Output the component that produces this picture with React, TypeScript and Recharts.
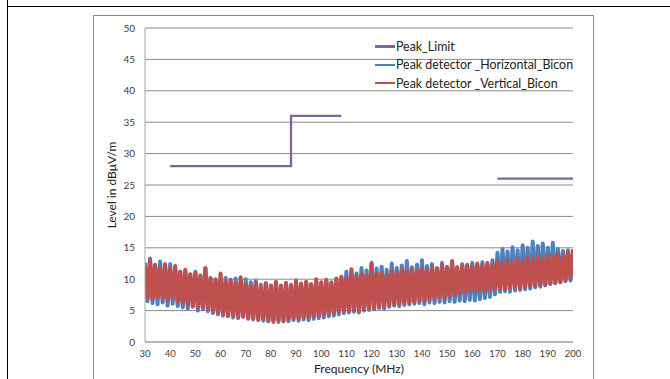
import React from 'react';
import { LineChart, Line, XAxis, YAxis, CartesianGrid, Label } from 'recharts';

// sweep samples, 1 MHz apart starting at 30 MHz
const levelHorizontal = [
  12.6, 6.5, 13.3, 6.2, 12.2, 6.0, 12.8, 6.3, 11.9, 5.8,
  12.4, 6.1, 11.6, 5.7, 11.1, 5.5, 11.4, 5.3, 10.7, 5.6,
  11.2, 5.0, 10.5, 5.2, 11.8, 4.9, 10.1, 4.6, 10.0, 4.4,
  9.7, 4.2, 10.2, 4.1, 9.8, 3.9, 10.1, 3.8, 9.6, 4.0,
  10.0, 3.7, 9.5, 3.6, 9.7, 3.5, 9.1, 3.4, 9.4, 3.3,
  8.9, 3.5, 9.2, 3.2, 9.0, 3.4, 9.3, 3.3, 9.0, 3.5,
  9.4, 3.4, 9.1, 3.6, 9.5, 3.5, 9.2, 3.7, 9.6, 3.8,
  9.3, 3.9, 9.7, 4.1, 9.5, 4.2, 10.0, 4.4, 10.3, 4.6,
  11.2, 4.7, 10.6, 4.8, 10.9, 4.7, 11.8, 5.0, 11.4, 5.1,
  12.6, 5.2, 11.7, 5.4, 12.0, 5.3, 11.5, 5.6, 12.5, 5.8,
  11.8, 5.7, 12.2, 5.9, 12.9, 6.0, 11.9, 6.1, 12.3, 6.2,
  13.0, 6.0, 12.1, 6.3, 12.4, 6.2, 11.8, 6.4, 12.6, 6.3,
  12.0, 6.5, 12.3, 6.4, 11.9, 6.6, 12.4, 6.5, 12.1, 6.7,
  12.6, 6.6, 12.2, 6.8, 12.7, 7.0, 12.3, 7.2, 13.0, 7.6,
  14.2, 8.0, 14.8, 8.1, 14.4, 8.0, 15.1, 8.2, 14.6, 8.3,
  15.4, 8.4, 15.0, 8.5, 16.0, 8.7, 15.3, 8.8, 15.7, 9.0,
  15.0, 9.2, 15.8, 9.4, 14.8, 9.5, 14.5, 9.7, 14.6, 9.8,
  14.2,
];

const levelVertical = [
  12.0, 7.0, 13.0, 6.8, 12.3, 7.2, 11.8, 6.9, 12.4, 6.7,
  11.6, 7.0, 12.1, 6.4, 11.2, 6.2, 11.5, 5.9, 10.8, 5.8,
  11.0, 5.5, 10.6, 5.6, 11.7, 5.2, 10.2, 5.0, 9.8, 4.6,
  10.9, 4.5, 9.6, 4.3, 9.9, 4.2, 9.4, 4.0, 10.3, 4.1,
  9.2, 3.8, 9.0, 3.9, 9.5, 3.6, 8.8, 3.7, 9.3, 3.4,
  9.0, 3.2, 9.6, 3.5, 8.9, 3.3, 9.4, 3.6, 9.1, 3.8,
  9.8, 3.7, 9.3, 4.0, 9.6, 3.9, 9.2, 4.1, 10.0, 4.2,
  9.5, 4.3, 9.9, 4.5, 9.4, 4.6, 10.1, 4.8, 10.4, 4.9,
  10.2, 5.0, 11.6, 5.1, 10.5, 4.9, 10.8, 5.2, 10.6, 5.3,
  12.4, 5.4, 10.9, 5.6, 11.0, 5.7, 10.7, 5.9, 11.3, 6.0,
  11.1, 6.2, 11.5, 6.1, 11.2, 6.3, 11.6, 6.4, 11.3, 6.5,
  11.7, 6.6, 11.4, 6.8, 12.0, 6.9, 11.6, 7.1, 12.2, 7.0,
  11.8, 7.3, 12.9, 7.5, 11.9, 7.7, 12.1, 7.9, 12.3, 8.1,
  12.0, 8.2, 12.5, 8.3, 12.2, 8.0, 12.6, 8.4, 12.4, 8.3,
  12.8, 8.5, 12.6, 8.4, 13.0, 8.6, 12.7, 8.7, 13.2, 8.5,
  12.9, 8.8, 13.4, 8.9, 13.1, 9.0, 13.6, 9.1, 13.3, 9.2,
  13.8, 9.3, 13.5, 9.4, 14.0, 9.6, 13.7, 9.8, 14.3, 10.2,
  14.8,
];

const limitFreqs = [40, 88, 88, 108, 139, 170, 200];
const limitLevels = [28, 28, 36, 36, null, 26, 26];

const xTicks = [30, 40, 50, 60, 70, 80, 90, 100, 110, 120, 130, 140, 150, 160, 170, 180, 190, 200];
const yTicks = [0, 5, 10, 15, 20, 25, 30, 35, 40, 45, 50];

const horizontalData = levelHorizontal.map((v, i) => ({ f: 30 + i, v }));
const verticalData = levelVertical.map((v, i) => ({ f: 30 + i, v }));
const limitData = limitFreqs.map((f, i) => ({ f, v: limitLevels[i] }));

const legendItems = [
  { name: 'Peak_Limit', color: '#8064A2' },
  { name: 'Peak detector _Horizontal_Bicon', color: '#4F81BD' },
  { name: 'Peak detector _Vertical_Bicon', color: '#C0504D' },
];

const font = 'Lato, "Open Sans", sans-serif';

const LegendBox = () => (
  <div style={{ position: 'absolute', left: 375, top: 37.5, fontFamily: font, fontSize: 12.4, color: '#222', whiteSpace: 'nowrap' }}>
    {legendItems.map((it) => (
      <div key={it.name} style={{ display: 'flex', alignItems: 'center', height: 18.3 }}>
        <span style={{ display: 'inline-block', width: 20, height: 2.5, background: it.color, marginRight: 1 }} />
        <span>{it.name}</span>
      </div>
    ))}
  </div>
);

export default function App() {
  return (
    <div style={{ position: 'fixed', left: 0, top: 0, width: 670, height: 379, overflow: 'hidden', background: '#fff' }}>
      <div style={{ position: 'absolute', left: 7, top: 0, width: 1.3, height: 379, background: '#000' }} />
      <div style={{ position: 'absolute', left: 7, top: 5.5, width: 663, height: 1.3, background: '#000' }} />
      <div style={{ position: 'absolute', left: 93, top: 14.5, width: 499, height: 400, border: '1px solid #8a8a8a' }} />
      <div style={{ position: 'absolute', left: 0, top: 0 }}>
        <LineChart width={670} height={379} margin={{ top: 28, right: 97, bottom: 0, left: 95 }}>
          <CartesianGrid vertical={false} stroke="#8a8a8a" />
          <XAxis
            dataKey="f"
            type="number"
            domain={[30, 200]}
            ticks={xTicks}
            allowDataOverflow
            tickLine={false}
            tickSize={0}
            tickMargin={8}
            height={37}
            stroke="#a6a6a6"
            tick={{ fill: '#404040', fontSize: 9.5, fontFamily: font }}
          >
            <Label value="Frequency (MHz)" position="insideBottom" offset={6} style={{ fill: '#222', fontSize: 12, fontFamily: font }} />
          </XAxis>
          <YAxis
            dataKey="v"
            type="number"
            domain={[0, 50]}
            ticks={yTicks}
            tickLine={false}
            tickSize={0}
            tickMargin={10}
            width={50}
            stroke="#a6a6a6"
            tick={{ fill: '#404040', fontSize: 10, fontFamily: font }}
          >
            <Label
              content={({ viewBox }: any) => {
                const cx = viewBox.x + 18;
                const cy = viewBox.y + viewBox.height / 2;
                return (
                  <text x={cx} y={cy} transform={`rotate(-90 ${cx} ${cy})`} textAnchor="middle" dominantBaseline="middle" fill="#222" fontSize={12} fontFamily={font}>
                    Level in dBμV/m
                  </text>
                );
              }}
            />
          </YAxis>
          <Line data={horizontalData} dataKey="v" stroke="#4F81BD" strokeWidth={4} strokeLinejoin="round" dot={false} isAnimationActive={false} />
          <Line data={verticalData} dataKey="v" stroke="#C0504D" strokeWidth={4} strokeLinejoin="round" dot={false} isAnimationActive={false} />
          <Line data={limitData} dataKey="v" stroke="#8064A2" strokeWidth={2.3} dot={false} isAnimationActive={false} connectNulls={false} />
        </LineChart>
      </div>
      <LegendBox />
    </div>
  );
}
